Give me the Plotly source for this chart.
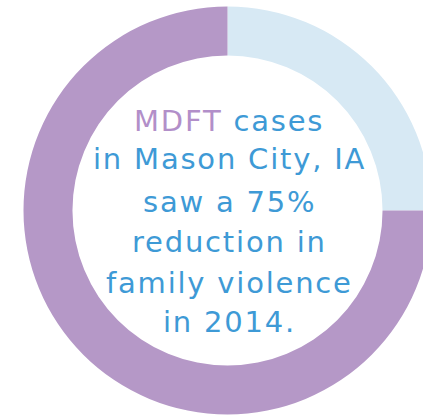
import plotly.graph_objects as go

# Data
labels = ["Other", "Reduction in family violence"]
values = [25, 75]
slice_colors = ["#d7e9f4", "#b598c7"]

text_lines = [
    "<span style='color:#b28fc9'>MDFT</span> cases",
    "in Mason City, IA",
    "saw a 75%",
    "reduction in",
    "family violence",
    "in 2014.",
]

W, H = 440, 415
cx, cy = 227.5, 210.5   # pixel centre of donut
R_out = 204.0

fig = go.Figure(
    go.Pie(
        labels=labels,
        values=values,
        hole=0.76,
        sort=False,
        direction="clockwise",
        rotation=0,
        marker=dict(colors=slice_colors, line=dict(width=0)),
        textinfo="none",
        hoverinfo="label+percent",
        showlegend=False,
        domain=dict(
            x=[(cx - R_out) / W, (cx + R_out) / W],
            y=[(H - cy - R_out) / H, (H - cy + R_out) / H],
        ),
    )
)

line_centers = [121, 159, 202, 242, 283, 322]
for txt, yc in zip(text_lines, line_centers):
    fig.add_annotation(
        text="<span style='letter-spacing:1.8px'>" + txt + "</span>",
        x=229 / W,
        y=1 - yc / H,
        xref="paper",
        yref="paper",
        xanchor="center",
        yanchor="middle",
        showarrow=False,
        font=dict(family="DejaVu Sans", size=29, color="#3e9ad6"),
    )

fig.update_layout(
    width=W,
    height=H,
    margin=dict(l=0, r=0, t=0, b=0),
    paper_bgcolor="white",
    plot_bgcolor="white",
)

fig.write_html(
    "out.html",
    config={"displayModeBar": False},
    post_script="document.body.style.margin='0';document.body.style.overflow='hidden';document.documentElement.style.overflow='hidden';",
)
